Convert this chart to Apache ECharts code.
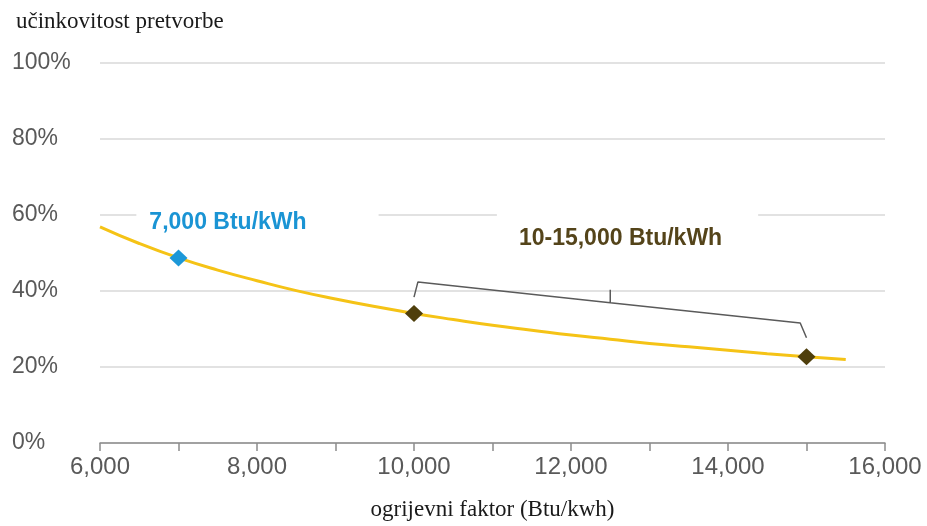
<!DOCTYPE html>
<html><head><meta charset="utf-8">
<script src="https://cdn.jsdelivr.net/npm/echarts@6/dist/echarts.min.js"></script>
<style>html,body{margin:0;padding:0;background:#fff}#c{width:927px;height:526px}</style>
</head><body><div id="c"></div>
<script>
// heat rate (Btu/kWh) and conversion efficiency (%)
const heatRate = [6000, 6500, 7000, 7500, 8000, 8500, 9000, 9500, 10000, 10500, 11000, 11500, 12000, 12500, 13000, 13500, 14000, 14500, 15000, 15500];
const efficiency = [56.9, 52.5, 48.7, 45.5, 42.7, 40.1, 37.9, 35.9, 34.1, 32.5, 31.0, 29.7, 28.4, 27.3, 26.2, 25.3, 24.4, 23.5, 22.7, 22.0];
const bluePoint = [7000, 48.7];
const brownPoints = [[10000, 34.1], [15000, 22.7]];
const bracketX = [10000, 10050, 12500, 12500, 12500, 14920, 15000];
const bracketY = [38.4, 42.4, 36.9, 40.3, 36.9, 31.6, 27.7];
const annotationText = ['7,000 Btu/kWh', '10-15,000 Btu/kWh'];
const annotationX = [8006, 12720];
const annotationY = [58.0, 53.9];
const yTicks = [0, 20, 40, 60, 80, 100];

const serif = 'Liberation Serif, Times New Roman, serif';
const sans = 'Liberation Sans, Arial, sans-serif';
const labelColors = ['#1A94D4', '#54441A'];
const labelPads = [[6, 72, 6, 13], [14, 36, 14, 22]];

const chart = echarts.init(document.getElementById('c'));
chart.setOption({
  animation: false,
  title: {
    text: 'učinkovitost pretvorbe', left: 11, top: 5,
    textStyle: { fontFamily: serif, fontSize: 23, fontWeight: 'normal', color: '#1a1a1a' }
  },
  grid: { left: 100, right: 42, top: 63, bottom: 83, outerBoundsMode: 'none', containLabel: false },
  xAxis: {
    type: 'value', min: 6000, max: 16000, interval: 2000,
    name: 'ogrijevni faktor (Btu/kwh)', nameLocation: 'middle', nameGap: 55,
    nameTextStyle: { fontFamily: serif, fontSize: 23, color: '#1a1a1a' },
    axisLine: { lineStyle: { color: '#8c8c8c', width: 1.5 } },
    axisTick: { show: true, inside: false, length: 8, lineStyle: { color: '#8c8c8c', width: 1.5 } },
    minorTick: { show: true, splitNumber: 2, length: 8, lineStyle: { color: '#8c8c8c', width: 1.5 } },
    splitLine: { show: false },
    axisLabel: {
      margin: 12, color: '#595959', fontSize: 24, fontFamily: sans,
      formatter: v => v.toLocaleString('en-US')
    }
  },
  yAxis: {
    type: 'value', min: yTicks[0], max: yTicks[yTicks.length - 1], interval: 20,
    axisLine: { show: false }, axisTick: { show: false },
    splitLine: { lineStyle: { color: '#d9d9d9', width: 1.5 } },
    axisLabel: {
      align: 'left', margin: 88, color: '#595959', fontSize: 23, fontFamily: sans,
      formatter: '{value}%'
    }
  },
  series: [
    {
      type: 'scatter', silent: true, symbolSize: 1, z: 6,
      itemStyle: { color: 'rgba(0,0,0,0)', opacity: 1 },
      data: annotationText.map((t, i) => ({
        value: [annotationX[i], annotationY[i]], name: t,
        label: { color: labelColors[i], padding: labelPads[i] }
      })),
      label: {
        show: true, position: 'inside', formatter: p => p.name,
        fontFamily: sans, fontWeight: 'bold', fontSize: 23,
        backgroundColor: '#ffffff'
      }
    },
    {
      type: 'line', silent: true, smooth: true, showSymbol: false, z: 3,
      data: heatRate.map((x, i) => [x, efficiency[i]]),
      lineStyle: { color: '#F5C316', width: 3 }
    },
    {
      type: 'line', silent: true, showSymbol: false, z: 4,
      data: bracketX.map((x, i) => [x, bracketY[i]]),
      lineStyle: { color: '#5a5a5a', width: 1.5 }
    },
    {
      type: 'scatter', silent: true, symbol: 'diamond', symbolSize: [18, 17], z: 5,
      data: [bluePoint], itemStyle: { color: '#1C98D8', opacity: 1 }
    },
    {
      type: 'scatter', silent: true, symbol: 'diamond', symbolSize: [18, 17], z: 5,
      data: brownPoints, itemStyle: { color: '#4F3F0C', opacity: 1 }
    }
  ]
});
</script></body></html>
